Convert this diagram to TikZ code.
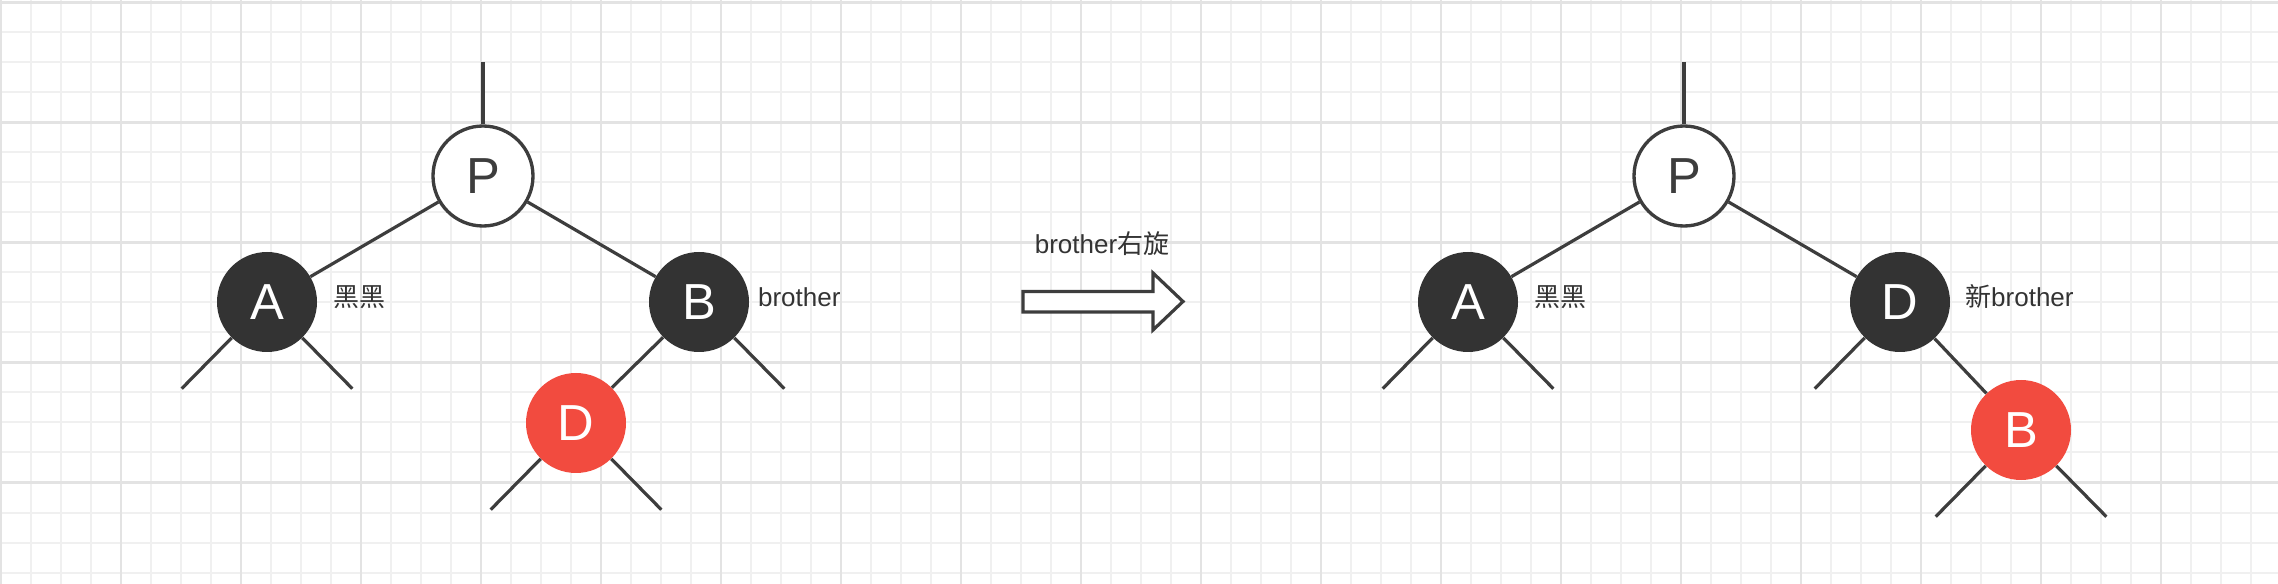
\documentclass[tikz,border=0pt]{standalone}
\usepackage{fontspec}
\setmainfont{Liberation Sans}
\newfontfamily\cjk{Noto Sans CJK SC}
\usetikzlibrary{positioning}
\definecolor{nodeblack}{HTML}{333333}
\definecolor{nodered}{HTML}{F24B3F}
\definecolor{linkgray}{HTML}{3D3D3D}
\definecolor{gridminor}{HTML}{F0F0F0}
\definecolor{gridmajor}{HTML}{E3E3E3}
\tikzset{
    x=0.75pt, y=-0.75pt, % one unit is one pixel of the screenshot
    on grid, % relative placement is measured between centres
    rbnode/.style={circle, minimum size=75pt, inner sep=0pt, font=\fontsize{38}{40}\selectfont}, % every tree node
    blacknode/.style={rbnode, fill=nodeblack, text=white}, % black node
    rednode/.style={rbnode, fill=nodered, text=white}, % red node
    whitenode/.style={rbnode, draw=linkgray, line width=2.5pt, fill=white, text=linkgray}, % the parent
    link/.style={draw=linkgray, line width=2.4pt}, % tree edges
    lbl/.style={inner sep=0pt, anchor=west, text=nodeblack, font=\fontsize{19.5}{22}\selectfont}, % side notes
    bigarrow/.style={draw=linkgray, line width=2.4pt, fill=white, line join=miter}, % rotation arrow
}

\begin{document}
\begin{tikzpicture}
    \useasboundingbox (0,0) rectangle (2278,584);
    % paper grid
    \foreach \gx in {1,31,...,2278} \draw[gridminor, line width=1.5pt] (\gx,0) -- (\gx,584);
    \foreach \gy in {2.5,32.5,...,584} \draw[gridminor, line width=1.5pt] (0,\gy) -- (2278,\gy);
    \foreach \gx in {1,121,...,2278} \draw[gridmajor, line width=1.6pt] (\gx,0) -- (\gx,584);
    \foreach \gy in {2.5,122.5,...,584} \draw[gridmajor, line width=1.6pt] (0,\gy) -- (2278,\gy);

    % before the rotation
    \node[whitenode] (p1) at (483,176) {P};
    \node[blacknode, below left=94.5pt and 162pt of p1] (a1) {A};
    \node[blacknode, below right=94.5pt and 162pt of p1] (b1) {B};
    \node[rednode, below left=90.75pt and 92.25pt of b1] (d1) {D};
    \coordinate[above=85.5pt of p1] (p1top);
    \coordinate[below left=65pt and 64pt of a1] (a1l);
    \coordinate[below right=65pt and 64pt of a1] (a1r);
    \coordinate[below right=65pt and 64pt of b1] (b1r);
    \coordinate[below left=65pt and 64pt of d1] (d1l);
    \coordinate[below right=65pt and 64pt of d1] (d1r);
    \draw[link]
    (p1top) edge (p1)
    (p1) edge (a1)
    (p1) edge (b1)
    (b1) edge (d1)
    (a1) edge (a1l)
    (a1) edge (a1r)
    (b1) edge (b1r)
    (d1) edge (d1l)
    (d1) edge (d1r);
    \node[lbl, xshift=12pt, yshift=3.75pt] (a1note) at (a1.east) {\cjk 黑黑};
    \node[lbl, xshift=6.4pt, yshift=3.75pt] (b1note) at (b1.east) {brother};

    % the rotation
    \draw[bigarrow] (1023,291.5) -- (1153,291.5) -- (1153,273) -- (1183,301.5)
        -- (1153,330) -- (1153,312) -- (1023,312) -- cycle;
    \node[lbl, anchor=center] (rot) at (1102,244) {brother{\cjk 右旋}};

    % after the rotation
    \node[whitenode] (p2) at (1684,176) {P};
    \node[blacknode, below left=94.5pt and 162pt of p2] (a2) {A};
    \node[blacknode, below right=94.5pt and 162pt of p2] (d2) {D};
    \node[rednode, below right=96pt and 90.75pt of d2] (b2) {B};
    \coordinate[above=85.5pt of p2] (p2top);
    \coordinate[below left=65pt and 64pt of a2] (a2l);
    \coordinate[below right=65pt and 64pt of a2] (a2r);
    \coordinate[below left=65pt and 64pt of d2] (d2l);
    \coordinate[below left=65pt and 64pt of b2] (b2l);
    \coordinate[below right=65pt and 64pt of b2] (b2r);
    \draw[link]
    (p2top) edge (p2)
    (p2) edge (a2)
    (p2) edge (d2)
    (d2) edge (b2)
    (a2) edge (a2l)
    (a2) edge (a2r)
    (d2) edge (d2l)
    (b2) edge (b2l)
    (b2) edge (b2r);
    \node[lbl, xshift=12pt, yshift=3.75pt] (a2note) at (a2.east) {\cjk 黑黑};
    \node[lbl, xshift=11pt, yshift=3.75pt] (d2note) at (d2.east) {{\cjk 新}brother};
\end{tikzpicture}
\end{document}
